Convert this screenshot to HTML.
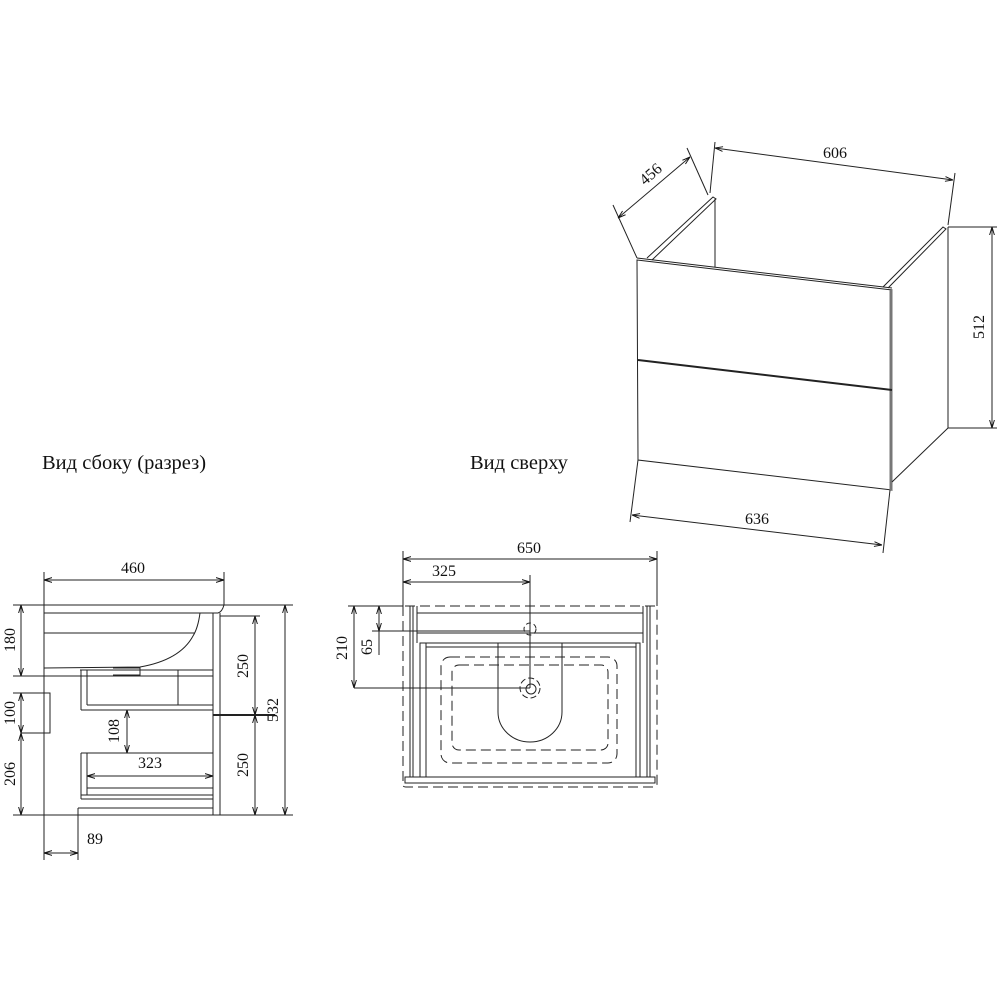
<!DOCTYPE html>
<html><head><meta charset="utf-8"><style>body{margin:0;background:#fff}svg{display:block}text{font-family:"Liberation Serif",serif;fill:#111}</style></head><body>
<svg width="1000" height="1000" viewBox="0 0 1000 1000" xmlns="http://www.w3.org/2000/svg">
<defs><marker id="a" viewBox="0 0 10 10" refX="10" refY="5" markerWidth="8" markerHeight="8" orient="auto-start-reverse"><path d="M0,2 L10,5 L0,8" fill="none" stroke="#111" stroke-width="1.2"/></marker></defs>
<g stroke="#222" stroke-width="1" fill="none">
<path d="M637,260 L892,290 L892,490 L638,460 Z" fill="#fff"/>
<line x1="891" y1="290" x2="891" y2="490" stroke-width="3" stroke="#777"/>
<line x1="638" y1="360" x2="892" y2="390" stroke-width="2"/>
<line x1="892" y1="482" x2="948" y2="428"/>
<line x1="948" y1="227" x2="948" y2="428"/>
<path d="M647,258 L713,197 L716,199 L652,260 M715,199 L715,267"/>
<path d="M883,287 L943,227 L946,229 L888,288"/>
<line x1="637" y1="258" x2="892" y2="288"/>
<line x1="613" y1="205" x2="637" y2="258"/><line x1="687" y1="148" x2="708" y2="195"/>
<line x1="618" y1="218" x2="690" y2="157" marker-start="url(#a)" marker-end="url(#a)"/>
<line x1="715" y1="142" x2="710" y2="193"/><line x1="955" y1="173" x2="948" y2="225"/>
<line x1="715" y1="148" x2="953" y2="180" marker-start="url(#a)" marker-end="url(#a)"/>
<line x1="948" y1="227" x2="997" y2="227"/><line x1="948" y1="428" x2="997" y2="428"/>
<line x1="992" y1="227" x2="992" y2="428" marker-start="url(#a)" marker-end="url(#a)"/>
<line x1="638" y1="460" x2="630" y2="522"/><line x1="890" y1="490" x2="883" y2="553"/>
<line x1="632" y1="515" x2="882" y2="545" marker-start="url(#a)" marker-end="url(#a)"/>

<line x1="44" y1="572" x2="44" y2="860"/><line x1="224" y1="572" x2="224" y2="605"/>
<line x1="44" y1="580" x2="224" y2="580" marker-start="url(#a)" marker-end="url(#a)"/>
<line x1="13" y1="605" x2="293" y2="605"/>
<path d="M44,613 L218,613 Q222,612 224,605"/>
<path d="M44,633 L195,633 M200,613 Q198,628 193,636 Q180,660 140,667 L44,668"/>
<path d="M213,613 L213,815 M220,613 L220,815"/>
<path d="M80,670 L213,670 M81,670 L81,710 M87,670 L87,705 M87,705 L213,705 M81,710 L213,710 M178,670 L178,705 M113,668 L140,668 L140,675 L113,675"/>
<path d="M81,753 L213,753 M81,753 L81,799 M87,753 L87,795 M87,788 L213,788 M81,795 L213,795 M81,799 L213,799 M78,808 L213,808 M78,808 L78,815"/>
<line x1="13" y1="815" x2="293" y2="815"/>
<line x1="13" y1="676" x2="213" y2="676"/>
<line x1="21" y1="605" x2="21" y2="676" marker-start="url(#a)" marker-end="url(#a)"/>
<path d="M13,693 L50,693 L50,733 L21,733"/>
<line x1="21" y1="693" x2="21" y2="733" marker-start="url(#a)" marker-end="url(#a)"/>
<line x1="21" y1="733" x2="21" y2="815" marker-start="url(#a)" marker-end="url(#a)"/>
<line x1="220" y1="616" x2="260" y2="616"/>
<line x1="255" y1="616" x2="255" y2="715" marker-start="url(#a)" marker-end="url(#a)"/>
<line x1="255" y1="715" x2="255" y2="815" marker-start="url(#a)" marker-end="url(#a)"/>
<line x1="213" y1="715" x2="275" y2="715" stroke-width="2"/>
<line x1="285" y1="605" x2="285" y2="815" marker-start="url(#a)" marker-end="url(#a)"/>
<line x1="127" y1="710" x2="127" y2="753" marker-start="url(#a)" marker-end="url(#a)"/>
<line x1="87" y1="776" x2="213" y2="776" marker-start="url(#a)" marker-end="url(#a)"/>
<line x1="78" y1="815" x2="78" y2="860"/>
<line x1="44" y1="853" x2="78" y2="853" marker-start="url(#a)" marker-end="url(#a)"/>

<line x1="403" y1="551" x2="403" y2="606"/><line x1="657" y1="551" x2="657" y2="606"/>
<line x1="403" y1="559" x2="657" y2="559" marker-start="url(#a)" marker-end="url(#a)"/>
<line x1="403" y1="582" x2="530" y2="582" marker-start="url(#a)" marker-end="url(#a)"/>
<path d="M405,606 L655,606 M403,606 L403,785 Q403,787 406,787 L654,787 Q657,787 657,784 L657,606" stroke-dasharray="10,5"/>
<path d="M410,606 L410,777 M413,606 L413,777 M647,606 L647,777 M650,606 L650,777"/>
<path d="M417,606 L417,643 M643,606 L643,643 M417,613 L643,613 M417,633 L643,633"/>
<rect x="420" y="643" width="220" height="134"/>
<path d="M426,643 L426,777 M636,643 L636,777 M426,647 L636,647"/>
<rect x="405" y="777" width="250" height="6"/>
<rect x="441" y="657" width="176" height="106" rx="9" stroke-dasharray="10,5"/>
<rect x="452" y="665" width="156" height="85" rx="7" stroke-dasharray="10,5"/>
<path d="M498,643 L498,712 A32,30 0 0 0 562,712 L562,643"/>
<circle cx="530" cy="688" r="10" stroke-dasharray="6,3"/><circle cx="531" cy="689" r="5"/>
<circle cx="530" cy="629" r="6" stroke-dasharray="5,3"/>
<line x1="530" y1="575" x2="530" y2="688"/>
<line x1="348" y1="606" x2="403" y2="606"/>
<line x1="354" y1="688" x2="530" y2="688"/>
<line x1="372" y1="631" x2="530" y2="631"/>
<line x1="354" y1="606" x2="354" y2="688" marker-start="url(#a)" marker-end="url(#a)"/>
<line x1="379" y1="606" x2="379" y2="631" marker-start="url(#a)" marker-end="url(#a)"/>
<line x1="379" y1="631" x2="379" y2="655"/>
</g>
<g font-size="16">
<text x="42" y="469" font-size="20.5">Вид сбоку (разрез)</text>
<text x="470" y="469" font-size="20.5">Вид сверху</text>
<text x="133" y="573" text-anchor="middle">460</text>
<text x="529" y="553" text-anchor="middle">650</text>
<text x="444" y="576" text-anchor="middle">325</text>
<text x="835" y="158" text-anchor="middle">606</text>
<text x="757" y="524" text-anchor="middle">636</text>
<text x="150" y="768" text-anchor="middle">323</text>
<text x="95" y="844" text-anchor="middle">89</text>
<text transform="translate(654,178) rotate(-41)" text-anchor="middle">456</text>
<text transform="translate(984,327) rotate(-90)" text-anchor="middle">512</text>
<text transform="translate(15,640) rotate(-90)" text-anchor="middle">180</text>
<text transform="translate(15,713) rotate(-90)" text-anchor="middle">100</text>
<text transform="translate(15,774) rotate(-90)" text-anchor="middle">206</text>
<text transform="translate(248,666) rotate(-90)" text-anchor="middle">250</text>
<text transform="translate(248,765) rotate(-90)" text-anchor="middle">250</text>
<text transform="translate(278,710) rotate(-90)" text-anchor="middle">532</text>
<text transform="translate(119,731) rotate(-90)" text-anchor="middle">108</text>
<text transform="translate(347,648) rotate(-90)" text-anchor="middle">210</text>
<text transform="translate(372,647) rotate(-90)" text-anchor="middle">65</text>
</g>
</svg>
</body></html>
